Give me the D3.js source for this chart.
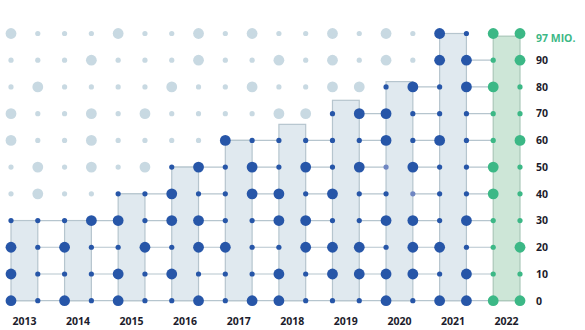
<!DOCTYPE html>
<html>
<head>
<meta charset="utf-8">
<script src="https://cdn.jsdelivr.net/npm/d3@7"></script>
<style>
  html, body { margin: 0; padding: 0; background: #fff; }
  svg { display: block; }
  text { font-family: "Open Sans", "Noto Sans", sans-serif; font-weight: 700; }
</style>
</head>
<body>
<svg id="chart" width="585" height="330"></svg>
<script>
// ---- data ----
const years = [2013, 2014, 2015, 2016, 2017, 2018, 2019, 2020, 2021, 2022];
const values = [30, 30, 40, 50, 60, 66, 75, 82, 100, 99];   // bar heights as drawn
const highlightYear = 2022;
const rows = [0, 10, 20, 30, 40, 50, 60, 70, 80, 90, 100];
const rowLabels = ["0", "10", "20", "30", "40", "50", "60", "70", "80", "90", "97 MIO."];
// dot size pattern per row (bottom to top), 20 columns (left/right edge of each year)
// L = large, s = small, f = small faded
const dotPattern = [
  "LsLsLssLsLLsssLsLLLL", // 0
  "LsssLsLsssLsLLLLsLss", // 10
  "LsLssLsLLssLLLsLLssL", // 20
  "sssLLsLLssLLssLLsLss", // 30
  "sLssssLssLLsLssfssLs", // 40
  "sLsLsLsLsLsLsLfLssLs", // 50
  "LssLssssLsssssLsLssL", // 60
  "LssLsLssssLLsLLsssss", // 70
  "sLssssLssLssLLsLsLLs", // 80
  "sssLsssLssLsLsLsLLsL", // 90
  "LsssLssLsLssLsLsLsLL"  // 100
];
const fillTolerance = 3; // top row stands for 97 Mio.

// ---- layout ----
const svg = d3.select("#chart");
const x = d3.scaleBand().domain(years).range([11, 520]).paddingInner(0.5).paddingOuter(0);
const y = d3.scaleLinear().domain([0, 100]).range([300.7, 33.5]);
const bw = x.bandwidth();

const C = {
  dark: "#2756a8", green: "#3cb886", light: "#c8d9e2", faded: "#6f86c2",
  barFill: "#e0e9ef", barStroke: "#b6c5ce", greenFill: "#cde6d7", greenStroke: "#aac8b9",
  grid: "#b6c5ce", text: "#1c1c2c"
};

// horizontal grid lines: from first bar reaching the row to the right end
rows.filter(r => r < 100).forEach(r => {
  const idx = values.findIndex(v => v >= r);
  if (idx < 0) return;
  svg.append("line")
    .attr("x1", x(years[idx])).attr("x2", x(years[years.length - 1]) + bw)
    .attr("y1", y(r)).attr("y2", y(r))
    .attr("stroke", C.grid).attr("stroke-width", 1.2);
});

// bars
svg.selectAll("rect.bar").data(years).join("rect")
  .attr("class", "bar")
  .attr("x", d => x(d))
  .attr("width", bw)
  .attr("y", (d, i) => y(values[i]))
  .attr("height", (d, i) => y(0) - y(values[i]))
  .attr("fill", d => d === highlightYear ? C.greenFill : C.barFill)
  .attr("stroke", d => d === highlightYear ? C.greenStroke : C.barStroke)
  .attr("stroke-width", 1.2);

// dots
const dots = [];
rows.forEach((r, ri) => {
  years.forEach((yr, yi) => {
    [0, 1].forEach(side => {
      const col = yi * 2 + side;
      const t = dotPattern[ri][col];
      const filled = values[yi] >= r - (r === 100 ? fillTolerance : 0);
      let color;
      if (!filled) color = C.light;
      else if (yr === highlightYear) color = C.green;
      else color = (t === "f") ? C.faded : C.dark;
      dots.push({ cx: x(yr) + side * bw, cy: y(r), rad: t === "L" ? 5.4 : 2.6, color });
    });
  });
});
svg.selectAll("circle.dot").data(dots).join("circle")
  .attr("class", "dot")
  .attr("cx", d => d.cx).attr("cy", d => d.cy).attr("r", d => d.rad)
  .attr("fill", d => d.color);

// year labels
svg.selectAll("text.year").data(years).join("text")
  .attr("class", "year")
  .attr("x", d => x(d) + bw / 2)
  .attr("y", 324.5)
  .attr("text-anchor", "middle")
  .attr("font-size", 10.5)
  .attr("fill", C.text)
  .text(d => d);

// row labels
svg.selectAll("text.rowlab").data(rows).join("text")
  .attr("class", "rowlab")
  .attr("x", 536)
  .attr("y", d => y(d) + (d === 100 ? 8 : 3.8))
  .attr("font-size", 10.5)
  .attr("fill", d => d === 100 ? C.green : C.text)
  .text((d, i) => rowLabels[i]);
</script>
</body>
</html>
